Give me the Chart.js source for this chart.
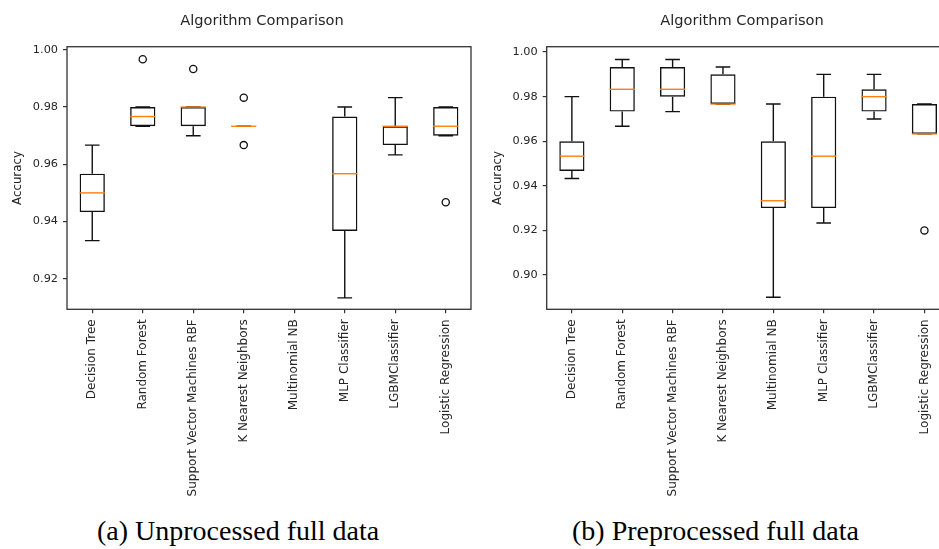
<!DOCTYPE html>
<html>
<head>
<meta charset="utf-8">
<script src="https://cdn.jsdelivr.net/npm/chart.js@4.4.1/dist/chart.umd.min.js"></script>
<style>
  html, body { margin: 0; padding: 0; background: #fff; }
  body { position: relative; width: 939px; height: 549px; overflow: hidden; }
  canvas { position: absolute; top: 0; }
  #chartA { left: 0; }
  #chartB { left: 490px; }
  .cap {
    position: absolute; top: 517px; margin: 0;
    font-family: "Liberation Serif", "Times New Roman", serif;
    font-size: 28px; line-height: 28px; color: #000; white-space: nowrap;
  }
  #capA { left: 97px; }
  #capB { left: 572px; }
</style>
</head>
<body>
<canvas id="chartA" width="524" height="500"></canvas>
<canvas id="chartB" width="504" height="500"></canvas>
<p class="cap" id="capA">(a) Unprocessed full data</p>
<p class="cap" id="capB">(b) Preprocessed full data</p>
<script>
// Classifier names shared by both panels
const categories = [
  'Decision Tree', 'Random Forest', 'Support Vector Machines RBF', 'K Nearest Neighbors',
  'Multinomial NB', 'MLP Classifier', 'LGBMClassifier', 'Logistic Regression'
];

// Y tick values for each panel
const yTicksRaw = [0.92, 0.94, 0.96, 0.98, 1.00];
const yTicksPre = [0.90, 0.92, 0.94, 0.96, 0.98, 1.00];

// Cross-validation accuracy summary, unprocessed data (Multinomial NB has no result)
const rawLow      = [0.9333, 0.9733, 0.9700, 0.9733, null, 0.9133, 0.9633, 0.9700];
const rawQ1       = [0.9433, 0.9733, 0.9733, 0.9733, null, 0.9367, 0.9667, 0.9700];
const rawMedian   = [0.9500, 0.9767, 0.9800, 0.9733, null, 0.9567, 0.9733, 0.9733];
const rawQ3       = [0.9567, 0.9800, 0.9800, 0.9733, null, 0.9767, 0.9733, 0.9800];
const rawHigh     = [0.9667, 0.9800, 0.9800, 0.9733, null, 0.9800, 0.9833, 0.9800];
const rawOutliers = [[], [0.9967], [0.9933], [0.9833, 0.9667], [], [], [], [0.9467]];

// Cross-validation accuracy summary, preprocessed data
const preLow      = [0.9433, 0.9667, 0.9733, 0.9767, 0.8900, 0.9233, 0.9700, 0.9633];
const preQ1       = [0.9467, 0.9733, 0.9800, 0.9767, 0.9300, 0.9300, 0.9733, 0.9633];
const preMedian   = [0.9533, 0.9833, 0.9833, 0.9767, 0.9333, 0.9533, 0.9800, 0.9633];
const preQ3       = [0.9600, 0.9933, 0.9933, 0.9900, 0.9600, 0.9800, 0.9833, 0.9767];
const preHigh     = [0.9800, 0.9967, 0.9967, 0.9933, 0.9767, 0.9900, 0.9900, 0.9767];
const preOutliers = [[], [], [], [], [], [], [], [0.9200]];

Chart.defaults.font.family = '"DejaVu Sans", sans-serif';
Chart.defaults.color = '#262626';

const INK = '#111';
const FRAME = '#333';
const MEDIAN = '#ff7f0e';

// Whiskers, caps, medians and the axes frame
const boxExtras = {
  id: 'boxExtras',
  afterDatasetsDraw(chart, args, opts) {
    const {ctx, chartArea} = chart;
    const x = chart.scales.x, y = chart.scales.y;
    const bars = chart.getDatasetMeta(0).data;
    ctx.save();
    opts.low.forEach((lo, i) => {
      if (lo == null) return;
      const cx = x.getPixelForValue(i);
      const bw = bars[i].width;
      const cap = bw * 0.29;
      const yLo = y.getPixelForValue(lo), yHi = y.getPixelForValue(opts.high[i]);
      const yQ1 = y.getPixelForValue(opts.q1[i]), yQ3 = y.getPixelForValue(opts.q3[i]);
      ctx.strokeStyle = INK;
      ctx.lineWidth = 1.4;
      ctx.beginPath();
      ctx.moveTo(cx, yQ1); ctx.lineTo(cx, yLo);
      ctx.moveTo(cx, yQ3); ctx.lineTo(cx, yHi);
      ctx.moveTo(cx - cap, yLo); ctx.lineTo(cx + cap, yLo);
      ctx.moveTo(cx - cap, yHi); ctx.lineTo(cx + cap, yHi);
      ctx.stroke();
      const yMed = y.getPixelForValue(opts.median[i]);
      ctx.strokeStyle = MEDIAN;
      ctx.lineWidth = 1.4;
      ctx.beginPath();
      ctx.moveTo(cx - bw / 2, yMed); ctx.lineTo(cx + bw / 2, yMed);
      ctx.stroke();
    });
    ctx.strokeStyle = FRAME;
    ctx.lineWidth = 1.3;
    ctx.strokeRect(chartArea.left, chartArea.top, chartArea.right - chartArea.left, chartArea.bottom - chartArea.top);
    ctx.restore();
  }
};

// An empty right-hand axis reserves the space to the right of the plot, so the
// full-width title stays centred on the canvas.
function makePanel(id, s) {
  const boxes = categories.map((c, i) => s.q1[i] == null ? null : [s.q1[i], s.q3[i]]);
  const fliers = [];
  s.outliers.forEach((list, i) => list.forEach(v => fliers.push({x: categories[i], y: v})));
  return new Chart(document.getElementById(id), {
    type: 'bar',
    data: {
      labels: categories,
      datasets: [{
        data: boxes,
        backgroundColor: 'rgba(0,0,0,0)',
        borderColor: INK,
        borderWidth: 1.4,
        borderSkipped: false,
        barPercentage: 0.5,
        categoryPercentage: 1
      }, {
        type: 'line',
        data: fliers,
        showLine: false,
        pointStyle: 'circle',
        pointRadius: 3.6,
        pointBorderWidth: 1.3,
        pointBorderColor: INK,
        pointBackgroundColor: 'rgba(0,0,0,0)'
      }]
    },
    options: {
      responsive: false,
      animation: false,
      layout: {padding: 0},
      plugins: {
        legend: {display: false},
        tooltip: {enabled: false},
        title: {
          display: true,
          text: 'Algorithm Comparison',
          font: {size: 14.6, weight: 'normal'},
          color: '#262626',
          padding: {top: 12, bottom: 17.2}
        },
        boxExtras: {low: s.low, q1: s.q1, median: s.median, q3: s.q3, high: s.high}
      },
      scales: {
        x: {
          type: 'category',
          offset: true,
          grid: {offset: false, drawOnChartArea: false, tickLength: 4, color: FRAME, lineWidth: 1.2},
          border: {display: false},
          ticks: {minRotation: 90, maxRotation: 90, autoSkip: false, padding: 6, font: {size: 12}},
          afterFit(scale) { scale.height = 500 - 309.3; }
        },
        y: {
          type: 'linear',
          min: s.yMin,
          max: s.yMax,
          grid: {drawOnChartArea: false, tickLength: 4, color: FRAME, lineWidth: 1.2},
          border: {display: false},
          ticks: {padding: 5, font: {size: 11.3}, callback: v => v.toFixed(2)},
          afterBuildTicks(scale) { scale.ticks = s.yTicks.map(v => ({value: v})); },
          afterFit(scale) { scale.width = s.axisWidth; },
          title: {display: true, text: 'Accuracy', font: {size: 11.8}, padding: {top: s.titlePad, bottom: 0}}
        },
        yRight: {
          type: 'linear',
          position: 'right',
          min: s.yMin,
          max: s.yMax,
          grid: {display: false},
          border: {display: false},
          ticks: {display: false},
          afterFit(scale) { scale.width = s.rightSpace; }
        }
      }
    },
    plugins: [boxExtras]
  });
}

makePanel('chartA', {
  low: rawLow, q1: rawQ1, median: rawMedian, q3: rawQ3, high: rawHigh, outliers: rawOutliers,
  yTicks: yTicksRaw, yMin: 0.9093, yMax: 1.0011,
  axisWidth: 67, rightSpace: 53, titlePad: 11
});
makePanel('chartB', {
  low: preLow, q1: preQ1, median: preMedian, q3: preQ3, high: preHigh, outliers: preOutliers,
  yTicks: yTicksPre, yMin: 0.8846, yMax: 1.0024,
  axisWidth: 56.7, rightSpace: 44.4, titlePad: 1.3
});
</script>
</body>
</html>
